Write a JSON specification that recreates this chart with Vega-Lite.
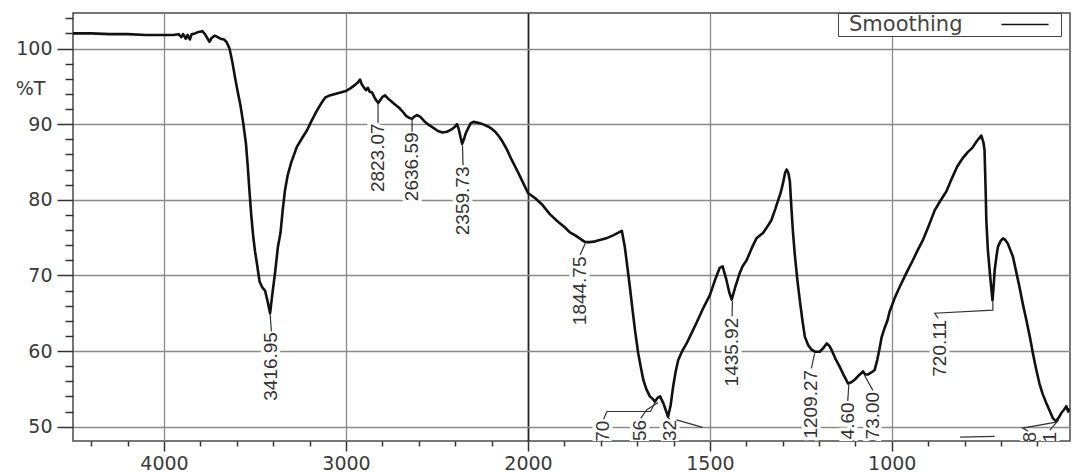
{
  "$schema": "https://vega.github.io/schema/vega-lite/v6.json",
  "width": 997,
  "height": 428,
  "autosize": {"type": "none"},
  "padding": {"left": 73, "top": 13, "right": 4, "bottom": 32},
  "background": "white",
  "config": {"view": {"stroke": "#4a4a4a", "strokeWidth": 1.5}},
  "datasets": {
    "spectrum": [
      {"wn": 4500, "t": 102.0}, {"wn": 4400, "t": 102.0}, {"wn": 4300, "t": 101.9}, {"wn": 4200, "t": 101.9},
      {"wn": 4100, "t": 101.8}, {"wn": 4000, "t": 101.8}, {"wn": 3950, "t": 101.8}, {"wn": 3920, "t": 101.9},
      {"wn": 3905, "t": 101.5}, {"wn": 3895, "t": 101.9}, {"wn": 3880, "t": 101.3}, {"wn": 3870, "t": 101.8},
      {"wn": 3858, "t": 101.2}, {"wn": 3848, "t": 101.9}, {"wn": 3830, "t": 102.0}, {"wn": 3810, "t": 102.2},
      {"wn": 3790, "t": 102.3}, {"wn": 3775, "t": 101.9}, {"wn": 3760, "t": 101.3}, {"wn": 3750, "t": 100.9},
      {"wn": 3738, "t": 101.4}, {"wn": 3722, "t": 101.7}, {"wn": 3705, "t": 101.5}, {"wn": 3690, "t": 101.3},
      {"wn": 3670, "t": 101.2}, {"wn": 3655, "t": 100.8}, {"wn": 3640, "t": 100.0}, {"wn": 3625, "t": 98.3},
      {"wn": 3610, "t": 96.2}, {"wn": 3595, "t": 94.3}, {"wn": 3580, "t": 92.5}, {"wn": 3565, "t": 90.2},
      {"wn": 3550, "t": 87.5}, {"wn": 3540, "t": 84.5}, {"wn": 3530, "t": 81.0}, {"wn": 3520, "t": 77.8},
      {"wn": 3510, "t": 75.2}, {"wn": 3500, "t": 73.2}, {"wn": 3489, "t": 71.5}, {"wn": 3475, "t": 69.2},
      {"wn": 3460, "t": 68.4}, {"wn": 3445, "t": 68.0}, {"wn": 3430, "t": 66.5}, {"wn": 3417, "t": 65.0},
      {"wn": 3405, "t": 67.5}, {"wn": 3390, "t": 70.3}, {"wn": 3374, "t": 73.8}, {"wn": 3360, "t": 75.6},
      {"wn": 3348, "t": 78.6}, {"wn": 3335, "t": 81.3}, {"wn": 3320, "t": 83.3}, {"wn": 3300, "t": 85.0},
      {"wn": 3270, "t": 87.0}, {"wn": 3240, "t": 88.2}, {"wn": 3214, "t": 89.2}, {"wn": 3190, "t": 90.4},
      {"wn": 3160, "t": 91.8}, {"wn": 3135, "t": 92.8}, {"wn": 3115, "t": 93.5}, {"wn": 3090, "t": 93.8},
      {"wn": 3060, "t": 94.0}, {"wn": 3030, "t": 94.2}, {"wn": 3000, "t": 94.4}, {"wn": 2978, "t": 94.7},
      {"wn": 2950, "t": 95.2}, {"wn": 2935, "t": 95.5}, {"wn": 2923, "t": 95.9}, {"wn": 2912, "t": 95.2},
      {"wn": 2900, "t": 94.8}, {"wn": 2890, "t": 94.5}, {"wn": 2880, "t": 94.8}, {"wn": 2870, "t": 94.3},
      {"wn": 2857, "t": 94.2}, {"wn": 2845, "t": 93.6}, {"wn": 2835, "t": 93.2}, {"wn": 2823, "t": 92.8},
      {"wn": 2812, "t": 93.2}, {"wn": 2800, "t": 93.6}, {"wn": 2785, "t": 93.8}, {"wn": 2770, "t": 93.4},
      {"wn": 2750, "t": 93.0}, {"wn": 2731, "t": 92.6}, {"wn": 2710, "t": 92.2}, {"wn": 2690, "t": 91.7},
      {"wn": 2670, "t": 91.1}, {"wn": 2650, "t": 90.8}, {"wn": 2637, "t": 90.7}, {"wn": 2625, "t": 91.0},
      {"wn": 2610, "t": 91.2}, {"wn": 2593, "t": 91.0}, {"wn": 2570, "t": 90.4}, {"wn": 2545, "t": 89.9},
      {"wn": 2520, "t": 89.5}, {"wn": 2495, "t": 89.1}, {"wn": 2470, "t": 88.9}, {"wn": 2445, "t": 89.0},
      {"wn": 2420, "t": 89.3}, {"wn": 2400, "t": 89.7}, {"wn": 2390, "t": 90.0}, {"wn": 2380, "t": 89.3},
      {"wn": 2370, "t": 88.2}, {"wn": 2362, "t": 87.4}, {"wn": 2352, "t": 88.0}, {"wn": 2342, "t": 88.8},
      {"wn": 2330, "t": 89.4}, {"wn": 2315, "t": 90.1}, {"wn": 2300, "t": 90.3}, {"wn": 2280, "t": 90.2},
      {"wn": 2260, "t": 90.1}, {"wn": 2240, "t": 89.9}, {"wn": 2220, "t": 89.7}, {"wn": 2200, "t": 89.4},
      {"wn": 2180, "t": 89.0}, {"wn": 2160, "t": 88.4}, {"wn": 2140, "t": 87.7}, {"wn": 2115, "t": 86.6},
      {"wn": 2090, "t": 85.3}, {"wn": 2060, "t": 83.9}, {"wn": 2030, "t": 82.4}, {"wn": 2000, "t": 80.9},
      {"wn": 1980, "t": 80.2}, {"wn": 1960, "t": 79.3}, {"wn": 1940, "t": 78.1}, {"wn": 1920, "t": 77.2},
      {"wn": 1900, "t": 76.4}, {"wn": 1885, "t": 75.7}, {"wn": 1870, "t": 75.3}, {"wn": 1855, "t": 74.8},
      {"wn": 1843, "t": 74.4}, {"wn": 1830, "t": 74.4}, {"wn": 1815, "t": 74.5}, {"wn": 1800, "t": 74.7},
      {"wn": 1785, "t": 74.9}, {"wn": 1766, "t": 75.3}, {"wn": 1750, "t": 75.7}, {"wn": 1742, "t": 75.9},
      {"wn": 1734, "t": 73.8}, {"wn": 1727, "t": 71.2}, {"wn": 1720, "t": 68.5}, {"wn": 1713, "t": 65.6},
      {"wn": 1706, "t": 62.8}, {"wn": 1697, "t": 59.7}, {"wn": 1690, "t": 57.9}, {"wn": 1683, "t": 56.2},
      {"wn": 1675, "t": 55.0}, {"wn": 1665, "t": 54.0}, {"wn": 1658, "t": 53.7}, {"wn": 1651, "t": 53.3},
      {"wn": 1644, "t": 53.8}, {"wn": 1637, "t": 54.0}, {"wn": 1632, "t": 53.5}, {"wn": 1628, "t": 53.1},
      {"wn": 1620, "t": 52.0}, {"wn": 1615, "t": 51.3}, {"wn": 1608, "t": 52.8}, {"wn": 1601, "t": 55.3},
      {"wn": 1594, "t": 57.3}, {"wn": 1587, "t": 58.8}, {"wn": 1576, "t": 60.0}, {"wn": 1564, "t": 61.0},
      {"wn": 1550, "t": 62.4}, {"wn": 1537, "t": 63.7}, {"wn": 1520, "t": 65.5}, {"wn": 1500, "t": 67.4},
      {"wn": 1485, "t": 69.5}, {"wn": 1473, "t": 71.0}, {"wn": 1465, "t": 71.2}, {"wn": 1455, "t": 69.5},
      {"wn": 1447, "t": 67.8}, {"wn": 1440, "t": 66.8}, {"wn": 1430, "t": 68.5}, {"wn": 1418, "t": 70.3},
      {"wn": 1410, "t": 71.2}, {"wn": 1399, "t": 72.0}, {"wn": 1385, "t": 73.6}, {"wn": 1372, "t": 74.9},
      {"wn": 1354, "t": 75.6}, {"wn": 1340, "t": 76.6}, {"wn": 1331, "t": 77.3}, {"wn": 1320, "t": 78.8},
      {"wn": 1312, "t": 80.0}, {"wn": 1305, "t": 81.0}, {"wn": 1299, "t": 82.2}, {"wn": 1293, "t": 83.6},
      {"wn": 1289, "t": 84.0}, {"wn": 1284, "t": 83.5}, {"wn": 1280, "t": 82.4}, {"wn": 1276, "t": 79.0},
      {"wn": 1272, "t": 76.0}, {"wn": 1267, "t": 73.0}, {"wn": 1260, "t": 69.6}, {"wn": 1253, "t": 66.8},
      {"wn": 1246, "t": 64.2}, {"wn": 1239, "t": 61.9}, {"wn": 1230, "t": 60.8}, {"wn": 1221, "t": 60.2},
      {"wn": 1210, "t": 59.9}, {"wn": 1198, "t": 59.9}, {"wn": 1188, "t": 60.4}, {"wn": 1179, "t": 61.0},
      {"wn": 1172, "t": 60.7}, {"wn": 1166, "t": 60.2}, {"wn": 1155, "t": 59.0}, {"wn": 1143, "t": 57.9},
      {"wn": 1131, "t": 56.7}, {"wn": 1120, "t": 55.7}, {"wn": 1110, "t": 55.9}, {"wn": 1102, "t": 56.2},
      {"wn": 1090, "t": 56.8}, {"wn": 1079, "t": 57.3}, {"wn": 1073, "t": 56.9}, {"wn": 1065, "t": 56.9},
      {"wn": 1055, "t": 57.2}, {"wn": 1047, "t": 57.5}, {"wn": 1040, "t": 58.8}, {"wn": 1034, "t": 60.2},
      {"wn": 1028, "t": 61.8}, {"wn": 1020, "t": 63.0}, {"wn": 1012, "t": 64.0}, {"wn": 1006, "t": 65.2},
      {"wn": 992, "t": 67.0}, {"wn": 978, "t": 68.5}, {"wn": 960, "t": 70.3}, {"wn": 942, "t": 72.0},
      {"wn": 928, "t": 73.4}, {"wn": 914, "t": 74.7}, {"wn": 898, "t": 76.6}, {"wn": 882, "t": 78.6},
      {"wn": 866, "t": 79.9}, {"wn": 850, "t": 81.1}, {"wn": 835, "t": 82.8}, {"wn": 820, "t": 84.4},
      {"wn": 805, "t": 85.5}, {"wn": 791, "t": 86.3}, {"wn": 778, "t": 86.9}, {"wn": 767, "t": 87.7},
      {"wn": 754, "t": 88.5}, {"wn": 748, "t": 87.6}, {"wn": 745, "t": 86.6}, {"wn": 742, "t": 81.5},
      {"wn": 740, "t": 77.3}, {"wn": 736, "t": 73.5}, {"wn": 731, "t": 70.7}, {"wn": 727, "t": 68.6},
      {"wn": 723, "t": 66.7}, {"wn": 720, "t": 68.5}, {"wn": 717, "t": 70.7}, {"wn": 712, "t": 72.6},
      {"wn": 708, "t": 73.8}, {"wn": 700, "t": 74.6}, {"wn": 694, "t": 74.9}, {"wn": 688, "t": 74.7},
      {"wn": 681, "t": 74.2}, {"wn": 667, "t": 72.5}, {"wn": 658, "t": 70.5}, {"wn": 649, "t": 68.5},
      {"wn": 640, "t": 66.3}, {"wn": 630, "t": 64.1}, {"wn": 620, "t": 61.8}, {"wn": 612, "t": 59.7},
      {"wn": 603, "t": 57.6}, {"wn": 594, "t": 55.7}, {"wn": 585, "t": 54.3}, {"wn": 575, "t": 53.1},
      {"wn": 565, "t": 52.0}, {"wn": 557, "t": 51.1}, {"wn": 548, "t": 50.7}, {"wn": 541, "t": 51.2},
      {"wn": 534, "t": 51.8}, {"wn": 527, "t": 52.2}, {"wn": 520, "t": 52.7}, {"wn": 515, "t": 52.0},
      {"wn": 511, "t": 52.4}
    ],
    "labels": [
      {"wn": 3410, "t": 62.5, "label": "3416.95"},
      {"wn": 2824, "t": 90.1, "label": "2823.07"},
      {"wn": 2637, "t": 88.9, "label": "2636.59"},
      {"wn": 2357, "t": 84.4, "label": "2359.73"},
      {"wn": 1857, "t": 72.5, "label": "1844.75"},
      {"wn": 1439, "t": 64.4, "label": "1435.92"},
      {"wn": 1221, "t": 57.5, "label": "1209.27"},
      {"wn": 1121, "t": 53.2, "label": "1114.60"},
      {"wn": 1052, "t": 54.6, "label": "1073.00"},
      {"wn": 868, "t": 64.1, "label": "720.11"},
      {"wn": 1794, "t": 50.8, "label": "1651.70"},
      {"wn": 1692, "t": 50.9, "label": "1645.56"},
      {"wn": 1610, "t": 50.9, "label": "1614.32"},
      {"wn": 621, "t": 49.3, "label": "548.18"},
      {"wn": 566, "t": 49.3, "label": "527.21"}
    ],
    "leaders": [
      {"id": "a", "k": 0, "wn": 3417, "t": 64.9}, {"id": "a", "k": 1, "wn": 3410, "t": 62.6},
      {"id": "b", "k": 0, "wn": 2824, "t": 92.8}, {"id": "b", "k": 1, "wn": 2824, "t": 90.2},
      {"id": "c", "k": 0, "wn": 2637, "t": 90.6}, {"id": "c", "k": 1, "wn": 2637, "t": 89.0},
      {"id": "d", "k": 0, "wn": 2360, "t": 87.2}, {"id": "d", "k": 1, "wn": 2357, "t": 84.6},
      {"id": "e", "k": 0, "wn": 1843, "t": 74.2}, {"id": "e", "k": 1, "wn": 1857, "t": 72.7},
      {"id": "f", "k": 0, "wn": 1438, "t": 66.6}, {"id": "f", "k": 1, "wn": 1439, "t": 64.6},
      {"id": "g", "k": 0, "wn": 1212, "t": 59.7}, {"id": "g", "k": 1, "wn": 1221, "t": 57.7},
      {"id": "h", "k": 0, "wn": 1118, "t": 55.6}, {"id": "h", "k": 1, "wn": 1121, "t": 53.4},
      {"id": "i", "k": 0, "wn": 1075, "t": 56.8}, {"id": "i", "k": 1, "wn": 1052, "t": 54.8},
      {"id": "j", "k": 0, "wn": 722, "t": 66.5}, {"id": "j", "k": 1, "wn": 722, "t": 65.4},
      {"id": "j", "k": 2, "wn": 882, "t": 65.0}, {"id": "j", "k": 3, "wn": 872, "t": 64.3},
      {"id": "k", "k": 0, "wn": 1651, "t": 53.2}, {"id": "k", "k": 1, "wn": 1663, "t": 52.0},
      {"id": "k", "k": 2, "wn": 1783, "t": 52.0}, {"id": "k", "k": 3, "wn": 1792, "t": 51.0},
      {"id": "l", "k": 0, "wn": 1642, "t": 53.2}, {"id": "l", "k": 1, "wn": 1674, "t": 52.2},
      {"id": "l", "k": 2, "wn": 1690, "t": 51.1},
      {"id": "m", "k": 0, "wn": 1615, "t": 51.2}, {"id": "m", "k": 1, "wn": 1610, "t": 51.0},
      {"id": "n", "k": 0, "wn": 1592, "t": 50.9}, {"id": "n", "k": 1, "wn": 1520, "t": 49.9},
      {"id": "o", "k": 0, "wn": 548, "t": 50.6}, {"id": "o", "k": 1, "wn": 640, "t": 49.8},
      {"id": "o", "k": 2, "wn": 625, "t": 49.4},
      {"id": "p", "k": 0, "wn": 541, "t": 50.9}, {"id": "p", "k": 1, "wn": 566, "t": 49.5},
      {"id": "q", "k": 0, "wn": 812, "t": 48.6}, {"id": "q", "k": 1, "wn": 717, "t": 48.7}
    ]
  },
  "encoding": {
    "x": {
      "field": "wn",
      "type": "quantitative",
      "scale": {"domain": [4500, 2000, 510], "range": [0, 455, 997], "zero": false, "nice": false},
      "axis": {
        "title": null,
        "values": [4400, 4200, 4000, 3800, 3600, 3400, 3200, 3000, 2800, 2600, 2400, 2200, 2000, 1900, 1800, 1700, 1600, 1500, 1400, 1300, 1200, 1100, 1000, 900, 800, 700, 600],
        "format": "d",
        "labelExpr": "indexof([4000,3000,2000,1500,1000], datum.value) >= 0 ? datum.label : ''",
        "labelOverlap": false,
        "labelFlush": false,
        "labelFont": "DejaVu Sans",
        "labelFontSize": 19,
        "labelColor": "#3a3a3a",
        "labelPadding": 3,
        "domain": false,
        "tickColor": "#333",
        "tickWidth": 1.5,
        "tickSize": {"condition": {"test": "indexof([4000,3000,2000,1500,1000], datum.value) >= 0", "value": 10}, "value": 5},
        "grid": true,
        "gridOpacity": {"condition": {"test": "indexof([4000,3000,2000,1500,1000], datum.value) >= 0", "value": 1}, "value": 0},
        "gridColor": {"condition": {"test": "datum.value === 2000", "value": "#222222"}, "value": "#8a8a8a"},
        "gridWidth": {"condition": {"test": "datum.value === 2000", "value": 1.8}, "value": 1.3}
      }
    },
    "y": {
      "field": "t",
      "type": "quantitative",
      "scale": {"domain": [48.1, 104.7], "zero": false, "nice": false},
      "axis": {
        "title": "%T",
        "titleAngle": 0,
        "titleX": -43,
        "titleY": 75,
        "titleAlign": "center",
        "titleBaseline": "middle",
        "titleFont": "DejaVu Sans",
        "titleFontSize": 19,
        "titleFontWeight": "normal",
        "titleColor": "#3a3a3a",
        "values": [50, 52, 54, 56, 58, 60, 62, 64, 66, 68, 70, 72, 74, 76, 78, 80, 82, 84, 86, 88, 90, 92, 94, 96, 98, 100, 102, 104],
        "labelExpr": "datum.value % 10 === 0 ? datum.label : ''",
        "labelOverlap": false,
        "labelFlush": false,
        "labelFont": "DejaVu Sans",
        "labelFontSize": 19,
        "labelColor": "#3a3a3a",
        "labelPadding": 5,
        "domain": false,
        "tickColor": "#333",
        "tickWidth": 1.5,
        "tickSize": {"condition": {"test": "datum.value % 10 === 0", "value": 16}, "value": 8},
        "grid": true,
        "gridOpacity": {"condition": {"test": "datum.value % 10 === 0", "value": 1}, "value": 0},
        "gridColor": "#8a8a8a",
        "gridWidth": 1.3
      }
    }
  },
  "layer": [
    {
      "data": {"name": "labels"},
      "mark": {"type": "text", "angle": 270, "align": "right", "baseline": "middle", "font": "Liberation Sans", "fontSize": 19, "fill": "white", "stroke": "white", "strokeWidth": 7, "strokeJoin": "round", "clip": true},
      "encoding": {"text": {"field": "label"}}
    },
    {
      "data": {"name": "spectrum"},
      "mark": {"type": "line", "strokeWidth": 2.6, "clip": true, "strokeJoin": "round"},
      "encoding": {
        "color": {
          "datum": "Smoothing",
          "type": "nominal",
          "scale": {"range": ["#111111"]},
          "legend": {
            "title": null,
            "orient": "none",
            "legendX": 765,
            "legendY": 0,
            "symbolType": "M30.4,0H39.8M41.4,0",
            "symbolSize": 100,
            "symbolStrokeWidth": 1.5,
            "symbolOffset": 0,
            "labelOffset": -11,
            "labelFont": "DejaVu Sans",
            "labelFontSize": 21,
            "labelColor": "#444444",
            "strokeColor": "#444444",
            "fillColor": "white",
            "padding": 1
          }
        }
      }
    },
    {
      "data": {"name": "leaders"},
      "mark": {"type": "line", "color": "#333333", "strokeWidth": 1.2, "clip": true},
      "encoding": {"detail": {"field": "id"}, "order": {"field": "k"}}
    },
    {
      "data": {"name": "labels"},
      "mark": {"type": "text", "angle": 270, "align": "right", "baseline": "middle", "font": "Liberation Sans", "fontSize": 19, "color": "#333333", "clip": true},
      "encoding": {"text": {"field": "label"}}
    }
  ]
}
